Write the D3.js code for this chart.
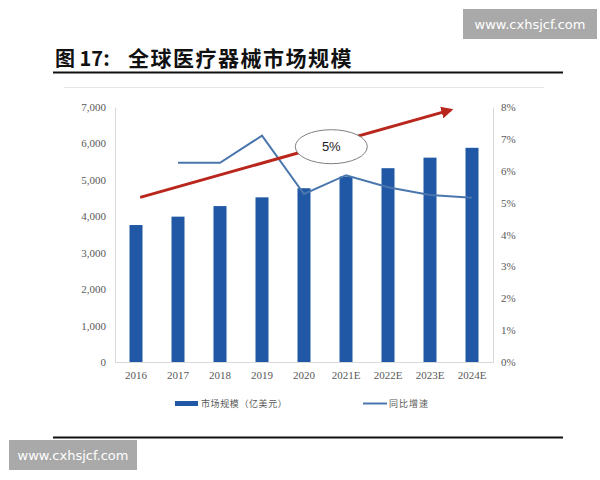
<!DOCTYPE html>
<html>
<head>
<meta charset="utf-8">
<title>全球医疗器械市场规模</title>
<script src="https://cdn.jsdelivr.net/npm/d3@7/dist/d3.min.js"></script>
<style>
  body { margin: 0; background: #fff; }
  svg { display: block; }
</style>
</head>
<body>
<svg id="chart" width="600" height="480"></svg>
<script>
// data
var years = ["2016", "2017", "2018", "2019", "2020", "2021E", "2022E", "2023E", "2024E"];
var marketSize = [3760, 3990, 4280, 4520, 4770, 5090, 5320, 5610, 5880];   // 亿美元
var growthYears = ["2017", "2018", "2019", "2020", "2021E", "2022E", "2023E", "2024E"];
var growth = [6.25, 6.25, 7.1, 5.27, 5.86, 5.48, 5.24, 5.15];              // %
var leftTicks = [0, 1000, 2000, 3000, 4000, 5000, 6000, 7000];
var rightTicks = [0, 1, 2, 3, 4, 5, 6, 7, 8];
// trend arrow and bubble, as (band index, left-axis value)
var trendArrow = [{i: 0.1, v: 4520}, {i: 7.5, v: 6920}];
var bubble = {i: 4.65, v: 5910, label: "5%"};

var svg = d3.select("#chart");
var serif = "'Liberation Serif', 'Times New Roman', serif";
var cjk = "'Noto Sans CJK SC', sans-serif";

// plot area edges
var pLeft = 115, pRight = 493, pTop = 107, pBottom = 362;

var x = d3.scaleBand().domain(years).range([pLeft, pRight]).paddingInner(0).paddingOuter(0);
var yL = d3.scaleLinear().domain([0, 7000]).range([pBottom, pTop]);
var yR = d3.scaleLinear().domain([0, 8]).range([pBottom, pTop]);
var xi = function(i) { return pLeft + x.bandwidth() * (i + 0.5); };

// watermarks
function watermark(wx, wy, w, h) {
  svg.append("rect").attr("x", wx).attr("y", wy).attr("width", w).attr("height", h).attr("fill", "#a9a9a9");
  svg.append("text").attr("x", wx + w / 2).attr("y", wy + h / 2 + 5)
    .attr("text-anchor", "middle").attr("fill", "#fff")
    .style("font-family", "'DejaVu Sans', sans-serif").style("font-size", "13px")
    .text("www.cxhsjcf.com");
}
watermark(463, 9, 134, 30);
watermark(9, 440, 128, 30);

// title
svg.append("text").attr("x", 55).attr("y", 66)
  .style("font-family", cjk).style("font-weight", "bold").style("font-size", "20px")
  .attr("fill", "#111")
  .text("图 17:");
svg.append("text").attr("x", 128).attr("y", 66)
  .style("font-family", cjk).style("font-weight", "bold").style("font-size", "21px")
  .style("letter-spacing", "1.5px")
  .attr("fill", "#111")
  .text("全球医疗器械市场规模");
svg.append("line").attr("x1", 53).attr("x2", 563).attr("y1", 72.5).attr("y2", 72.5)
  .attr("stroke", "#111").attr("stroke-width", 2);
svg.append("line").attr("x1", 53).attr("x2", 563).attr("y1", 437.5).attr("y2", 437.5)
  .attr("stroke", "#111").attr("stroke-width", 2);

// faint chart frame
svg.append("line").attr("x1", 64).attr("x2", 544).attr("y1", 87.5).attr("y2", 87.5)
  .attr("stroke", "#e6e6e6").attr("stroke-width", 1);

// axes
var axL = svg.append("g").attr("transform", "translate(" + pLeft + ",0)")
  .call(d3.axisLeft(yL).tickValues(leftTicks).tickSize(0).tickPadding(9).tickFormat(d3.format(",")));
var axR = svg.append("g").attr("transform", "translate(" + pRight + ",0)")
  .call(d3.axisRight(yR).tickValues(rightTicks).tickSize(0).tickPadding(8).tickFormat(function(d) { return d + "%"; }));
var axB = svg.append("g").attr("transform", "translate(0," + pBottom + ")")
  .call(d3.axisBottom(x).tickSize(0).tickPadding(9));
[axL, axR, axB].forEach(function(a) {
  a.select(".domain").attr("stroke", "#d9d9d9");
  a.selectAll("text").attr("fill", "#595959").style("font-family", serif).style("font-size", "11px");
});

// bars
var barW = 13;
svg.append("g").selectAll("rect").data(marketSize).join("rect")
  .attr("x", function(d, i) { return x(years[i]) + x.bandwidth() / 2 - barW / 2; })
  .attr("y", function(d) { return yL(d); })
  .attr("width", barW)
  .attr("height", function(d) { return pBottom - yL(d); })
  .attr("fill", "#2158a5");

// growth line
var line = d3.line()
  .x(function(d, i) { return x(growthYears[i]) + x.bandwidth() / 2; })
  .y(function(d) { return yR(d); });
svg.append("path").datum(growth).attr("d", line)
  .attr("fill", "none").attr("stroke", "#4a76ae").attr("stroke-width", 2);

// red trend arrow
svg.append("defs").append("marker").attr("id", "arr")
  .attr("viewBox", "0 0 10 10").attr("refX", 8).attr("refY", 5)
  .attr("markerWidth", 4).attr("markerHeight", 4).attr("orient", "auto")
  .append("path").attr("d", "M0,0 L10,5 L0,10 z").attr("fill", "#b8261c");
svg.append("path").datum(trendArrow)
  .attr("d", d3.line().x(function(d) { return xi(d.i); }).y(function(d) { return yL(d.v); }))
  .attr("stroke", "#b8261c").attr("stroke-width", 3).attr("fill", "none")
  .attr("marker-end", "url(#arr)");

// bubble
svg.append("ellipse").attr("cx", xi(bubble.i)).attr("cy", yL(bubble.v))
  .attr("rx", 36).attr("ry", 17).attr("fill", "#fff").attr("stroke", "#7f7f7f").attr("stroke-width", 1);
svg.append("text").attr("x", xi(bubble.i)).attr("y", yL(bubble.v) + 4.5)
  .attr("text-anchor", "middle").attr("fill", "#222")
  .style("font-family", "'Liberation Sans', Arial, sans-serif").style("font-size", "13px")
  .text(bubble.label);

// legend
var lg = svg.append("g").style("font-family", cjk).style("font-size", "9px");
lg.append("rect").attr("x", 175).attr("y", 401).attr("width", 23).attr("height", 5).attr("fill", "#2158a5");
lg.append("text").attr("x", 201).attr("y", 407).attr("fill", "#595959")
  .style("letter-spacing", "0.6px").text("市场规模（亿美元）");
lg.append("line").attr("x1", 363).attr("x2", 387).attr("y1", 403.5).attr("y2", 403.5)
  .attr("stroke", "#4a76ae").attr("stroke-width", 2);
lg.append("text").attr("x", 389).attr("y", 407).attr("fill", "#595959")
  .style("letter-spacing", "1px").text("同比增速");
</script>
</body>
</html>
